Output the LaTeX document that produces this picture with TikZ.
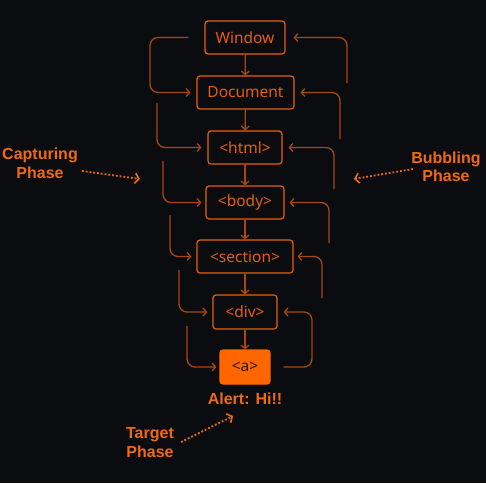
\documentclass[tikz,border=0pt]{standalone}
\usepackage{fontspec}
\setmainfont{Noto Sans}
\newfontfamily\labf{Liberation Sans}
\usetikzlibrary{arrows.meta}
\definecolor{bg}{HTML}{0B0C10}
\definecolor{boxc}{HTML}{E45F0D}
\definecolor{connc}{HTML}{A8480F}
\definecolor{labc}{HTML}{F26A10}
\definecolor{afill}{HTML}{FF6600}
\definecolor{atext}{HTML}{2A1608}
\tikzset{
  x=1pt, y=-1pt,
  domnode/.style={draw=boxc, line width=1.2pt, rounded corners=3pt, inner sep=0pt,
    minimum height=33pt, text=boxc, font=\fontsize{15.5}{17}\selectfont},
  conn/.style={draw=connc, line width=1.3pt, rounded corners=8pt,
    -{Straight Barb[length=3.5pt,width=8pt,line width=1.3pt]}},
  phase/.style={text=labc, align=center, font=\labf\bfseries\fontsize{16}{18.5}\selectfont},
  dotarrow/.style={draw=labc, line width=1.8pt, dotted,
    -{Straight Barb[length=4pt,width=10pt,line width=1.6pt]}},
}
\begin{document}
\begin{tikzpicture}
\fill[bg] (0,0) rectangle (486,483);
\useasboundingbox (0,0) rectangle (486,483);

\node[domnode, minimum width=80pt] (win) at (245,37.5) {Window};
\node[domnode, minimum width=97pt] (doc) at (245.5,92.5) {Document};
\node[domnode, minimum width=74pt] (html) at (245,147.5) {<html>};
\node[domnode, minimum width=78pt] (body) at (245,202.5) {<body>};
\node[domnode, minimum width=96pt] (sec) at (245,256.5) {<section>};
\node[domnode, minimum width=64pt, minimum height=34pt] (div) at (245,312) {<div>};
\node[domnode, draw=afill, fill=afill, text=atext, minimum width=50pt, minimum height=34pt] (a) at (245,367) {<a>};
\node[phase] (alert) at (245,399) {Alert: Hi!!};

% downward arrows
\draw[conn] (win) -- (doc);
\draw[conn] (doc) -- (html);
\draw[conn] (html) -- (body);
\draw[conn] (body) -- (sec);
\draw[conn] (sec) -- (div);
\draw[conn] (div) -- (a);

% capturing connectors (left)
\coordinate (c1) at ([xshift=-16pt]win.west);
\coordinate (c2) at (157,103);
\coordinate (c3) at (163,161);
\coordinate (c4) at (170,215);
\coordinate (c5) at (179,270);
\coordinate (c6) at (187,326);
\draw[conn] (c1) -- (150,37.5) |- ([xshift=-6pt]doc.west);
\draw[conn] (c2) |- ([xshift=-6pt]html.west);
\draw[conn] (c3) |- ([xshift=-4pt]body.west);
\draw[conn] (c4) |- ([xshift=-5pt]sec.west);
\draw[conn] (c5) |- ([xshift=-5pt]div.west);
\draw[conn] (c6) |- ([xshift=-3pt]a.west);

% bubbling connectors (right)
\coordinate (b1) at ([xshift=13pt]a.east);
\coordinate (b2) at (322,298);
\coordinate (b3) at (329,243);
\coordinate (b4) at (334,189);
\coordinate (b5) at (340,139);
\coordinate (b6) at (347,83);
\draw[conn] (b1) -- (312,367) |- ([xshift=6pt]div.east);
\draw[conn] (b2) |- ([xshift=4pt]sec.east);
\draw[conn] (b3) |- ([xshift=5pt]body.east);
\draw[conn] (b4) |- ([xshift=6pt]html.east);
\draw[conn] (b5) |- ([xshift=6pt]doc.east);
\draw[conn] (b6) |- ([xshift=8pt]win.east);

% phase labels
\node[phase] (cap) at (40,163.5) {Capturing\\Phase};
\node[phase] (bub) at (446,167) {Bubbling\\Phase};
\node[phase] (tgt) at (150,442.5) {Target\\Phase};
\coordinate (capS) at (82,171);
\coordinate (capE) at (140,179);
\coordinate (bubS) at (413,169);
\coordinate (bubE) at (354,179);
\coordinate (tgtS) at (181,442);
\coordinate (tgtE) at (233,416);
\draw[dotarrow] (capS) -- (capE);
\draw[dotarrow] (bubS) -- (bubE);
\draw[dotarrow] (tgtS) -- (tgtE);
\end{tikzpicture}
\end{document}
